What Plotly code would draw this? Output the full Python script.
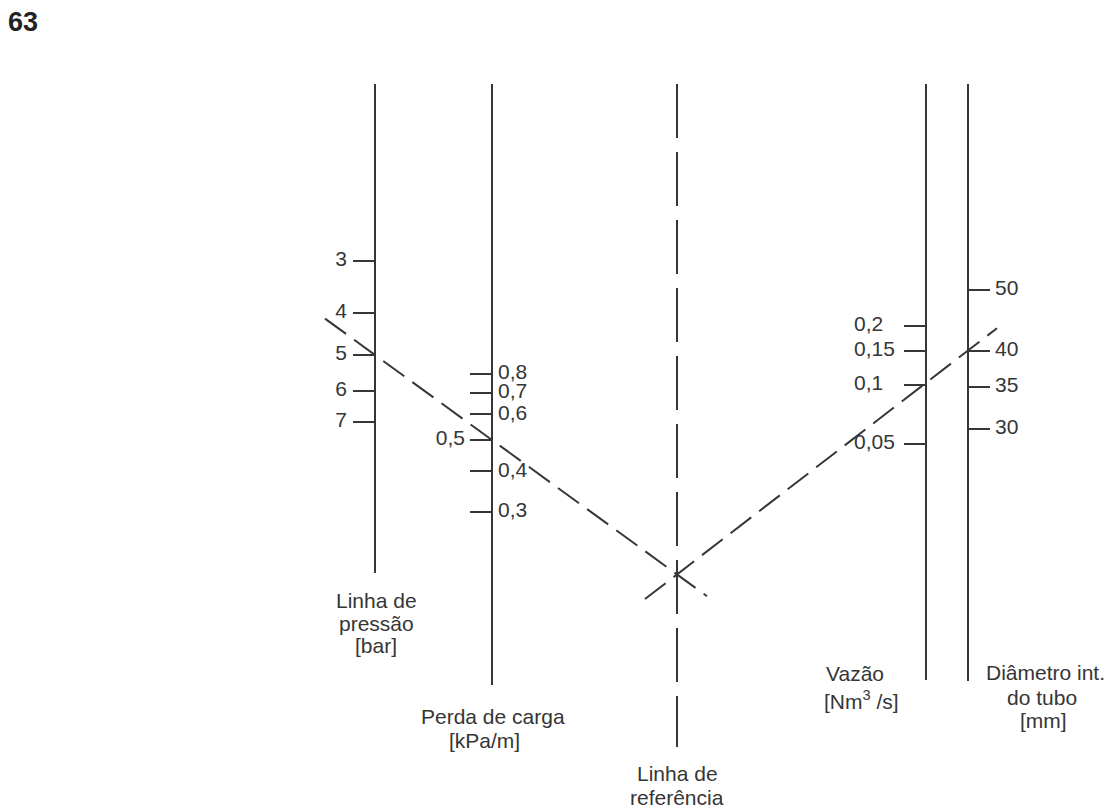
import math
import plotly.graph_objects as go

W, H = 1106, 810
INK = "#363636"
FONT = "Liberation Sans, Arial, Helvetica, sans-serif"
FS = 21

# ---- scale values -------------------------------------------------------
pressure_bar = [3, 4, 5, 6, 7]
pressure_labels = ["3", "4", "5", "6", "7"]
ATM_BAR = 1.0  # the pressure scale is laid out on absolute pressure

head_loss = [0.8, 0.7, 0.6, 0.5, 0.4, 0.3]
head_loss_labels = ["0,8", "0,7", "0,6", "0,5", "0,4", "0,3"]

flow = [0.2, 0.15, 0.1, 0.05]
flow_labels = ["0,2", "0,15", "0,1", "0,05"]

diameter = [50, 40, 35, 30]
diameter_labels = ["50", "40", "35", "30"]

# worked example drawn across the nomogram
example_pressure = 5
example_loss = 0.5
example_diameter = 40

# ---- scale geometry (pixel column, vertical extent, log10 range) --------
scales = {
    "pressure": dict(n=2, x=375, top=84, bottom=573, range=[1.1869, 0.2701], side="left"),
    "loss": dict(n=3, x=492, top=84, bottom=685, range=[-1.0598, 0.8015], side="left"),
    "flow": dict(n=4, x=926, top=84, bottom=680, range=[-2.5059, 0.5365], side="left"),
    "diameter": dict(n=5, x=968, top=84, bottom=681, range=[1.0770, 2.0255], side="right"),
}
REF_X = 677


def domain(s):
    return [1 - s["bottom"] / H, 1 - s["top"] / H]


def to_px(s, v):
    r0, r1 = s["range"]
    d0, d1 = domain(s)
    frac = d0 + (d1 - d0) * (math.log10(v) - r0) / (r1 - r0)
    return H * (1 - frac)


def line_y(a, b, x):
    return a[1] + (b[1] - a[1]) * (x - a[0]) / (b[0] - a[0])


fig = go.Figure()

tickvals = {
    "pressure": [p + ATM_BAR for p in pressure_bar],
    "loss": head_loss,
    "flow": flow,
    "diameter": diameter,
}

layout_axes = {}
for name, s in scales.items():
    layout_axes[f"yaxis{s['n']}"] = dict(
        type="log", domain=domain(s), range=s["range"], anchor="free",
        position=s["x"] / W, side=s["side"],
        showline=True, linecolor=INK, linewidth=2,
        ticks="outside", ticklen=21, tickwidth=2, tickcolor=INK,
        tickvals=tickvals[name], showticklabels=False,
        showgrid=False, zeroline=False, fixedrange=True,
    )


def labels(name, vals, texts, x, pos):
    s = scales[name]
    fig.add_trace(go.Scatter(
        x=[x] * len(vals), y=vals, text=texts, mode="text",
        textposition=pos, xaxis="x", yaxis=f"y{s['n']}",
        textfont=dict(family=FONT, size=FS, color=INK),
        hoverinfo="skip", showlegend=False, cliponaxis=False,
    ))


labels("pressure", tickvals["pressure"], pressure_labels, 347, "middle left")
right_loss = [(v, t) for v, t in zip(head_loss, head_loss_labels) if v != example_loss]
labels("loss", [v for v, _ in right_loss], [t for _, t in right_loss], 498, "middle right")
labels("loss", [example_loss], [head_loss_labels[head_loss.index(example_loss)]], 465, "middle left")
labels("flow", flow, flow_labels, 854, "middle right")
labels("diameter", diameter, diameter_labels, 995, "middle right")

# reference line
fig.add_trace(go.Scatter(
    x=[REF_X, REF_X], y=[84, 747], mode="lines",
    line=dict(color=INK, width=2, dash="54px,14px"),
    hoverinfo="skip", showlegend=False,
))

# construction lines of the example: pressure -> head loss -> reference,
# then reference point -> pipe diameter, crossing the flow scale
p_pt = (scales["pressure"]["x"], to_px(scales["pressure"], example_pressure + ATM_BAR))
l_pt = (scales["loss"]["x"], to_px(scales["loss"], example_loss))
r_pt = (REF_X, line_y(p_pt, l_pt, REF_X))
d_pt = (scales["diameter"]["x"], to_px(scales["diameter"], example_diameter))

left_x = [325, 707]
right_x = [645, 997]
fig.add_trace(go.Scatter(
    x=left_x, y=[line_y(p_pt, l_pt, x) for x in left_x], mode="lines",
    line=dict(color=INK, width=2, dash="26px,10px"),
    hoverinfo="skip", showlegend=False,
))
fig.add_trace(go.Scatter(
    x=right_x, y=[line_y(r_pt, d_pt, x) for x in right_x], mode="lines",
    line=dict(color=INK, width=2, dash="26px,10px"),
    hoverinfo="skip", showlegend=False,
))


# titles
def note(text, x, y, size=FS, bold=False):
    fig.add_annotation(
        text=f"<b>{text}</b>" if bold else text, x=x, y=y, xref="x", yref="y",
        showarrow=False, xanchor="center", yanchor="middle",
        font=dict(family=FONT, size=size, color="#222" if bold else INK),
    )


note("63", 23, 22, size=27, bold=True)
note("Linha de", 376, 600)
note("pressão", 376, 623)
note("[bar]", 376, 645)
note("Perda de carga", 493, 716)
note("[kPa/m]", 484, 740)
note("Linha de", 677, 773)
note("referência", 677, 797)
note("Vazão", 855, 673)
note("[Nm<sup>3</sup> /s]", 861, 700)
note("Diâmetro int.", 1045, 672)
note("do tubo", 1042, 697)
note("[mm]", 1043, 720)

fig.update_layout(
    width=W, height=H, margin=dict(l=0, r=0, t=0, b=0),
    paper_bgcolor="white", plot_bgcolor="rgba(0,0,0,0)",
    xaxis=dict(range=[0, W], domain=[0, 1], visible=False, fixedrange=True),
    yaxis=dict(range=[H, 0], domain=[0, 1], visible=False, fixedrange=True),
    showlegend=False,
    **layout_axes,
)

fig.write_html("out.html")
